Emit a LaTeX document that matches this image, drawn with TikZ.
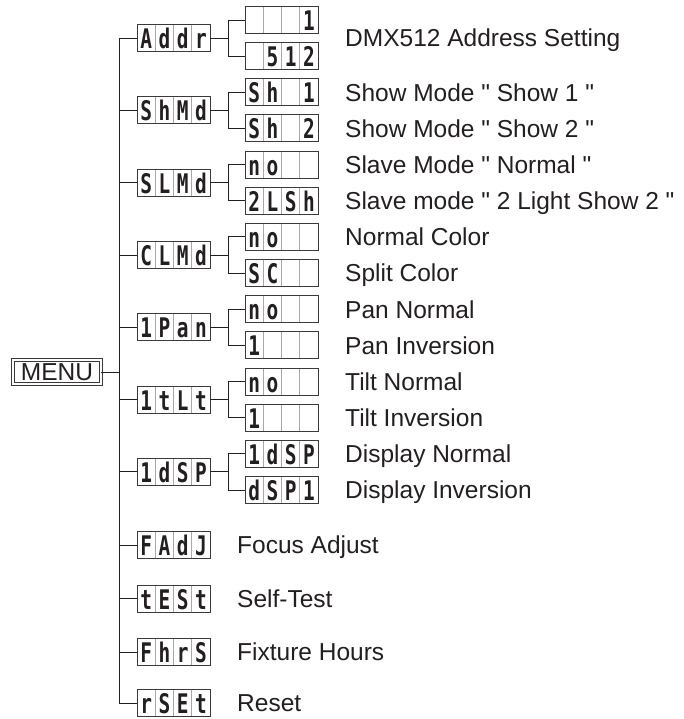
\documentclass[tikz,border=0pt]{standalone}
\usepackage{fontspec}
\setmainfont{Liberation Sans}[Ligatures=TeXOff]
\newfontfamily\segfont[FakeStretch=0.72]{DejaVu Sans Mono}
\definecolor{ink}{HTML}{231F20}
\definecolor{framec}{HTML}{3A3A3A}
\definecolor{cellc}{HTML}{A8A8A8}
\tikzset{
  segframe/.style={draw=framec, line width=0.9pt, minimum width=73pt, minimum height=27pt, inner sep=0pt},
  segch/.style={font=\segfont\bfseries\fontsize{27}{27}\selectfont, text=ink, inner sep=0pt, anchor=base},
  celldiv/.style={draw=cellc, line width=0.9pt},
  wire/.style={draw=ink, line width=0.9pt},
  lbl/.style={font=\fontsize{24.5}{29}\selectfont, text=ink, anchor=base west, inner sep=0pt},
  menubox/.style={draw=framec, line width=0.8pt, double=white, double distance=1.6pt, minimum width=88pt, minimum height=24pt, inner sep=0pt, font=\fontsize{24.5}{29}\selectfont, text=ink}
}
\newcommand\segbox[6]{%
  \draw[celldiv] (#2) ++(-18.25,-13.5) -- ++(0,27);
  \draw[celldiv] (#2) ++(0,-13.5) -- ++(0,27);
  \draw[celldiv] (#2) ++(18.25,-13.5) -- ++(0,27);
  \node[segframe] (#1) at (#2) {};
  \node[segch] (#1-1) at ([xshift=-27.375pt,yshift=-10.5pt]#1.center) {#3};
  \node[segch] (#1-2) at ([xshift=-9.125pt,yshift=-10.5pt]#1.center) {#4};
  \node[segch] (#1-3) at ([xshift=9.125pt,yshift=-10.5pt]#1.center) {#5};
  \node[segch] (#1-4) at ([xshift=27.375pt,yshift=-10.5pt]#1.center) {#6};
}
\begin{document}
\begin{tikzpicture}[x=1pt,y=-1pt]
\useasboundingbox (0,0) rectangle (683,719);

% MENU
\node[menubox] (menu) at (57,372) {MENU};

% level 1 boxes
\segbox{addr}{173.5,38.08}{A}{d}{d}{r}
\segbox{shmd}{173.5,110.4}{S}{h}{M}{d}
\segbox{slmd}{173.5,182.7}{S}{L}{M}{d}
\segbox{clmd}{173.5,255}{C}{L}{M}{d}
\segbox{ipan}{173.5,327.3}{1}{P}{a}{n}
\segbox{itlt}{173.5,399.6}{1}{t}{L}{t}
\segbox{idsp}{173.5,471.9}{1}{d}{S}{P}
\segbox{fadj}{173.5,545}{F}{A}{d}{J}
\segbox{test}{173.5,598.5}{t}{E}{S}{t}
\segbox{fhrs}{173.5,652}{F}{h}{r}{S}
\segbox{rset}{173.5,703}{r}{S}{E}{t}

% level 2 boxes
\segbox{a1}{281.5,20}{}{}{}{1}
\segbox{a2}{281.5,56.15}{}{5}{1}{2}
\segbox{b1}{281.5,92.3}{S}{h}{}{1}
\segbox{b2}{281.5,128.45}{S}{h}{}{2}
\segbox{c1}{281.5,164.6}{n}{o}{}{}
\segbox{c2}{281.5,200.75}{2}{L}{S}{h}
\segbox{d1}{281.5,236.9}{n}{o}{}{}
\segbox{d2}{281.5,273.05}{S}{C}{}{}
\segbox{e1}{281.5,309.2}{n}{o}{}{}
\segbox{e2}{281.5,345.35}{1}{}{}{}
\segbox{f1}{281.5,381.5}{n}{o}{}{}
\segbox{f2}{281.5,417.65}{1}{}{}{}
\segbox{g1}{281.5,453.8}{1}{d}{S}{P}
\segbox{g2}{281.5,489.95}{d}{S}{P}{1}

% trunk
\coordinate (tA) at (119,38.08);
\coordinate (tM) at (119,372);
\coordinate (tK) at (119,703);
\draw[wire] (addr.west) -- (tA) -- (tK) -- (rset.west);
\draw[wire] (menu.east) -- (tM);
\foreach \n in {shmd,slmd,clmd,ipan,itlt,idsp,fadj,test,fhrs}{
  \draw[wire] (\n.west) -- (\n.west -| tA);
}

% branches
\foreach \p/\u/\v in {addr/a1/a2,shmd/b1/b2,slmd/c1/c2,clmd/d1/d2,ipan/e1/e2,itlt/f1/f2,idsp/g1/g2}{
  \coordinate (\p-j) at ([xshift=18pt]\p.east);
  \draw[wire] (\p.east) -- (\p-j);
  \draw[wire] (\u.west) -| (\p-j) |- (\v.west);
}

% labels
\node[lbl] (la) at (345,46.9) {DMX512 Address Setting};
\node[lbl] (lb1) at (345,101.1) {Show Mode " Show 1 "};
\node[lbl] (lb2) at (345,137.25) {Show Mode " Show 2 "};
\node[lbl] (lc1) at (345,173.4) {Slave Mode " Normal "};
\node[lbl] (lc2) at (345,209.55) {Slave mode " 2 Light Show 2 "};
\node[lbl] (ld1) at (345,245.7) {Normal Color};
\node[lbl] (ld2) at (345,281.85) {Split Color};
\node[lbl] (le1) at (345,318) {Pan Normal};
\node[lbl] (le2) at (345,354.15) {Pan Inversion};
\node[lbl] (lf1) at (345,390.3) {Tilt Normal};
\node[lbl] (lf2) at (345,426.45) {Tilt Inversion};
\node[lbl] (lg1) at (345,462.6) {Display Normal};
\node[lbl] (lg2) at (345,498.75) {Display Inversion};
\node[lbl] (lh) at (237,553.8) {Focus Adjust};
\node[lbl] (li) at (237,607.3) {Self-Test};
\node[lbl] (lj) at (237,660.8) {Fixture Hours};
\node[lbl] (lk) at (237,711.8) {Reset};
\end{tikzpicture}
\end{document}
